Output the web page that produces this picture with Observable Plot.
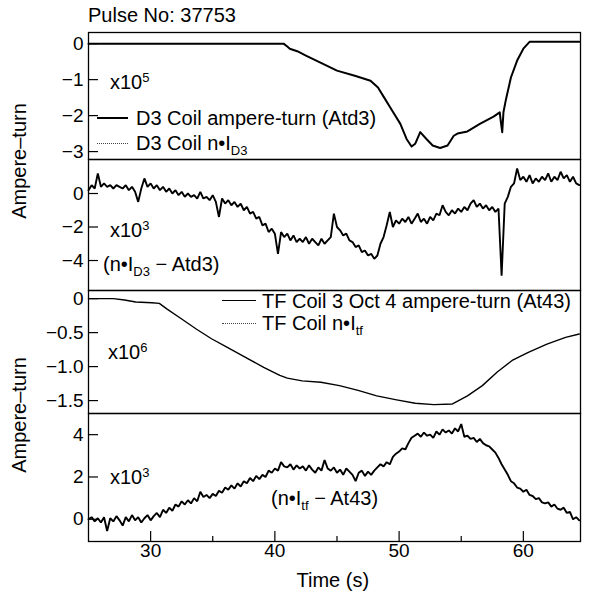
<!DOCTYPE html>
<html>
<head>
<meta charset="utf-8">
<script src="https://cdn.jsdelivr.net/npm/d3@7"></script>
<script src="https://cdn.jsdelivr.net/npm/@observablehq/plot@0.6"></script>
<style>
  html, body { margin: 0; padding: 0; background: #fff; overflow: hidden; }
  #chart { position: relative; width: 589px; height: 598px; font-family: "Liberation Sans", Arial, Helvetica, sans-serif; color: #000; }
  .panel { position: absolute; left: 0; }
  .txt { position: absolute; font-size: 20px; line-height: 20px; white-space: nowrap; }
  .sup { font-size: 13px; position: relative; top: -7px; }
  .sub { font-size: 13px; position: relative; top: 5px; }
  .ylab { position: absolute; font-size: 20px; line-height: 20px; white-space: nowrap; transform: translate(-50%, -50%) rotate(-90deg); }
  .swatch { position: absolute; height: 0; }
</style>
</head>
<body>
<div id="chart"></div>
<script>
// ---------------- data ----------------
const xDomain = [25, 64.6];
const majorTimes = [30, 40, 50, 60];
const minorTimes = [35, 45, 55];

// D3 coil ampere-turn (Atd3), units of 1e5 : [time s, value]
const atd3 = [
  [25, 0], [40.7, 0], [41.0, -0.08], [41.2, -0.14], [41.8, -0.21], [42.5, -0.33],
  [43.5, -0.5], [45, -0.75], [46.5, -0.9], [47.7, -1.03], [48.3, -1.22], [48.8, -1.5],
  [49.3, -1.78], [50.1, -2.23], [50.6, -2.65], [51.0, -2.86], [51.3, -2.78], [51.7, -2.46],
  [52.2, -2.65], [52.7, -2.83], [53.3, -2.9], [53.9, -2.83], [54.4, -2.56], [54.7, -2.5],
  [55.5, -2.44], [56.5, -2.23], [57.6, -2.03], [58.1, -1.91], [58.2, -2.2], [58.3, -2.46],
  [58.4, -1.9], [58.6, -1.55], [59.0, -0.94], [59.5, -0.47], [60.0, -0.14], [60.5, 0.05],
  [64.5, 0.05]
];

// sampled difference signals: one value every 0.25 s from 25 s
const sampleStart = 25, sampleStep = 0.25;

// (n*I_D3 - Atd3), units of 1e3
const d3Diff = [
  0.2, 0.5, 0.3, 1.2,
  0.4, 0.6, 0.4, 0.5,
  0.3, 0.5, 0.4, 0.3,
  0.5, 0.2, 0.4, 0.1,
  -0.5, 0.3, 0.9, 0.4,
  0.6, 0.3, 0.5, 0.2,
  0.4, 0.1, 0.3, 0.0,
  0.2, -0.1, 0.1, -0.2,
  0.0, -0.2, -0.1, -0.3,
  0.1, -0.3, -0.2, -0.4,
  -0.1, -0.5, -1.4, -0.3,
  -0.6, -0.4, -0.7, -0.5,
  -0.8, -0.6, -1.0, -0.8,
  -1.2, -1.1, -1.5, -1.4,
  -1.9, -1.8, -2.3, -2.1,
  -2.4, -3.6, -2.3, -2.6,
  -2.4, -2.8, -2.5, -2.9,
  -2.7, -2.9, -2.6, -3.0,
  -2.7, -2.9, -3.1, -2.7,
  -3.0, -2.8, -2.6, -1.2,
  -2.0, -2.2, -2.5, -2.4,
  -2.8, -2.9, -3.2, -3.1,
  -3.5, -3.4, -3.7, -3.6,
  -3.9, -3.7, -3.0, -2.6,
  -1.9, -1.1, -2.0, -1.6,
  -1.8, -1.5, -1.7, -1.4,
  -1.8, -1.5, -1.2, -1.7,
  -1.5, -1.8, -1.4, -1.6,
  -1.2, -1.3, -0.7, -1.1,
  -1.3, -1.0, -1.2, -0.9,
  -1.1, -0.8, -1.0, -0.6,
  -0.4, -0.8, -0.6, -0.9,
  -0.7, -1.0, -0.8, -1.1,
  -0.9, -4.9, -0.6, -0.2,
  0.4, 0.6, 1.5, 0.8,
  1.0, 0.7, 1.1, 0.6,
  0.9, 0.7, 1.0, 0.8,
  1.2, 0.7, 1.0, 0.8,
  1.3, 0.9, 1.1, 0.7,
  1.0, 0.6, 0.5
];

// TF coil 3 oct 4 ampere-turn (At43), units of 1e6 : [time s, value]
const at43 = [
  [25, 0], [27.0, 0], [27.9, -0.02], [28.8, -0.05], [30.1, -0.06], [30.7, -0.07],
  [31.3, -0.15], [32.5, -0.30], [33.7, -0.45], [34.9, -0.59], [36.1, -0.71], [37.6, -0.86],
  [39.1, -1.01], [40.4, -1.13], [41.0, -1.17], [42.2, -1.21], [43.7, -1.23], [45.2, -1.28],
  [46.7, -1.35], [48.2, -1.43], [49.8, -1.49], [51.3, -1.54], [52.8, -1.56], [54.3, -1.55],
  [55.5, -1.43], [56.7, -1.28], [57.9, -1.08], [59.1, -0.91], [60.4, -0.79], [61.9, -0.67],
  [63.4, -0.57], [64.5, -0.52]
];

// (n*I_tf - At43), units of 1e3
const tfDiff = [
  0.0, 0.1, -0.1, 0.05,
  -0.15, 0.1, -0.55, 0.05,
  -0.1, 0.15, -0.05, -0.3,
  0.1, -0.1, 0.2, -0.05,
  0.1, -0.15, 0.05, 0.2,
  -0.05, 0.15, 0.3, 0.1,
  0.45, 0.3, 0.55, 0.4,
  0.7, 0.6, 0.85, 0.7,
  0.9, 0.75, 1.0, 0.85,
  1.3, 1.05, 1.15, 1.0,
  1.2, 1.1, 1.35, 1.25,
  1.5, 1.4, 1.6, 1.45,
  1.7, 1.55, 1.8, 1.7,
  1.95, 1.8, 2.05, 1.9,
  2.1, 2.0, 2.3, 2.2,
  2.4, 2.3, 2.7, 2.5,
  2.45, 2.6, 2.35, 2.55,
  2.4, 2.5, 2.3, 2.55,
  2.35, 2.2, 2.45, 2.3,
  2.8, 2.4, 2.3, 2.45,
  2.2, 2.35, 2.1, 2.4,
  2.25, 2.1, 1.8, 2.2,
  2.3, 2.05, 2.25, 2.1,
  2.3, 2.45, 2.6, 2.5,
  2.7, 2.6, 2.95, 3.1,
  3.2, 3.35, 3.3, 3.6,
  3.85, 3.95, 4.05, 3.9,
  4.1, 3.95, 4.0, 3.85,
  4.15, 4.0, 4.25, 4.1,
  4.2, 4.05, 4.3, 4.15,
  4.5, 3.9, 3.95, 3.8,
  3.85, 3.65, 3.8, 3.6,
  3.5, 3.45, 3.3, 3.15,
  2.9, 2.6, 2.35, 2.1,
  1.8, 1.7, 1.5, 1.45,
  1.3, 1.4, 1.15, 1.1,
  0.95, 1.0, 0.8, 0.75,
  0.8, 0.6, 0.7, 0.5,
  0.45, 0.55, 0.3, 0.35,
  0.0, 0.1, -0.05
];

const p1Ticks = [0, -1, -2, -3];
const p2Ticks = [0, -2, -4];
const p3Ticks = [0, -0.5, -1.0, -1.5];
const p4Ticks = [0, 2, 4];

// ---------------- drawing ----------------
const chart = document.getElementById("chart");
const pairs = a => a.map(([t, v]) => ({t, v}));
const sampled = a => a.map((v, i) => ({t: sampleStart + i * sampleStep, v}));
const minus = s => String(s).replace("-", "\u2212");
const fmtInt = d => minus(d);
const fmtDec = d => d === 0 ? "0" : minus(d.toFixed(1));

function panel({top, height, marginBottom = 0, yDomain, yTicks, yFormat, marks, xAxis = false}) {
  const svg = Plot.plot({
    width: 589, height,
    marginLeft: 88, marginRight: 9, marginTop: 0, marginBottom,
    style: {overflow: "visible", background: "transparent", fontFamily: "'Liberation Sans', Arial, sans-serif", fontSize: "19px", color: "#000"},
    x: xAxis ? {domain: xDomain, label: null} : {domain: xDomain, label: null, axis: null},
    y: {domain: yDomain, label: null},
    marks: [
      Plot.axisY(yTicks, {tickSize: -10, tickPadding: 15, tickFormat: yFormat, strokeWidth: 1.2, label: null}),
      ...(xAxis ? [
        Plot.axisX(majorTimes, {tickSize: -10, tickPadding: 12, tickFormat: d => String(d), strokeWidth: 1.2, label: null}),
        Plot.axisX(minorTimes, {tickSize: -5, tickFormat: () => "", strokeWidth: 1.2, label: null})
      ] : []),
      ...marks,
      Plot.frame({stroke: "#000", strokeWidth: 1.3})
    ]
  });
  const wrap = document.createElement("div");
  wrap.className = "panel";
  wrap.style.top = top + "px";
  wrap.appendChild(svg);
  chart.appendChild(wrap);
}

panel({top: 32, height: 127, yDomain: [-3.22, 0.31], yTicks: p1Ticks, yFormat: fmtInt,
  marks: [Plot.line(pairs(atd3), {x: "t", y: "v", stroke: "#000", strokeWidth: 2})]});
panel({top: 159, height: 131, yDomain: [-5.79, 2.03], yTicks: p2Ticks, yFormat: fmtInt,
  marks: [Plot.line(sampled(d3Diff), {x: "t", y: "v", stroke: "#000", strokeWidth: 1.9, strokeLinejoin: "miter"})]});
panel({top: 290, height: 123, yDomain: [-1.69, 0.12], yTicks: p3Ticks, yFormat: fmtDec,
  marks: [Plot.line(pairs(at43), {x: "t", y: "v", stroke: "#000", strokeWidth: 1.4})]});
panel({top: 413, height: 185, marginBottom: 57, yDomain: [-1.05, 5.0], yTicks: p4Ticks, yFormat: fmtInt,
  marks: [Plot.line(sampled(tfDiff), {x: "t", y: "v", stroke: "#000", strokeWidth: 1.9, strokeLinejoin: "miter"})], xAxis: true});

// ---------------- text and legends ----------------
function text(html, left, cy, cls = "txt") {
  const d = document.createElement("div");
  d.className = cls;
  d.innerHTML = html;
  d.style.left = left + "px";
  d.style.top = (cy - 10) + "px";
  chart.appendChild(d);
  return d;
}
function ylab(str, cx, cy) {
  const d = document.createElement("div");
  d.className = "ylab";
  d.textContent = str;
  d.style.left = cx + "px";
  d.style.top = cy + "px";
  chart.appendChild(d);
}
function swatch(left, y, width, style) {
  const d = document.createElement("div");
  d.className = "swatch";
  d.style.left = left + "px";
  d.style.top = y + "px";
  d.style.width = width + "px";
  d.style.borderTop = style;
  chart.appendChild(d);
}

text("Pulse No: 37753", 88, 15);
ylab("Ampere\u2013turn", 19, 161);
ylab("Ampere\u2013turn", 19, 415);

text('x10<span class="sup">5</span>', 110, 82);
swatch(97, 117, 31, "2px solid #000");
text("D3 Coil ampere-turn (Atd3)", 136, 118);
swatch(97, 143, 31, "1px dotted #444");
text('D3 Coil n\u2022I<span class="sub">D3</span>', 136, 143);

text('x10<span class="sup">3</span>', 110, 230);
text('(n\u2022I<span class="sub">D3</span> \u2212 Atd3)', 103, 264);

swatch(222, 300, 34, "1.5px solid #000");
text("TF Coil 3 Oct 4 ampere-turn (At43)", 262, 301);
swatch(222, 323, 34, "1px dotted #444");
text('TF Coil n\u2022I<span class="sub">tf</span>', 262, 323);
text('x10<span class="sup">6</span>', 108, 352);

text('x10<span class="sup">3</span>', 110, 477);
text('(n\u2022I<span class="sub">tf</span> \u2212 At43)', 271, 498);

const tl = text("Time (s)", 0, 580);
tl.style.left = (333 - tl.offsetWidth / 2) + "px";
</script>
</body>
</html>
